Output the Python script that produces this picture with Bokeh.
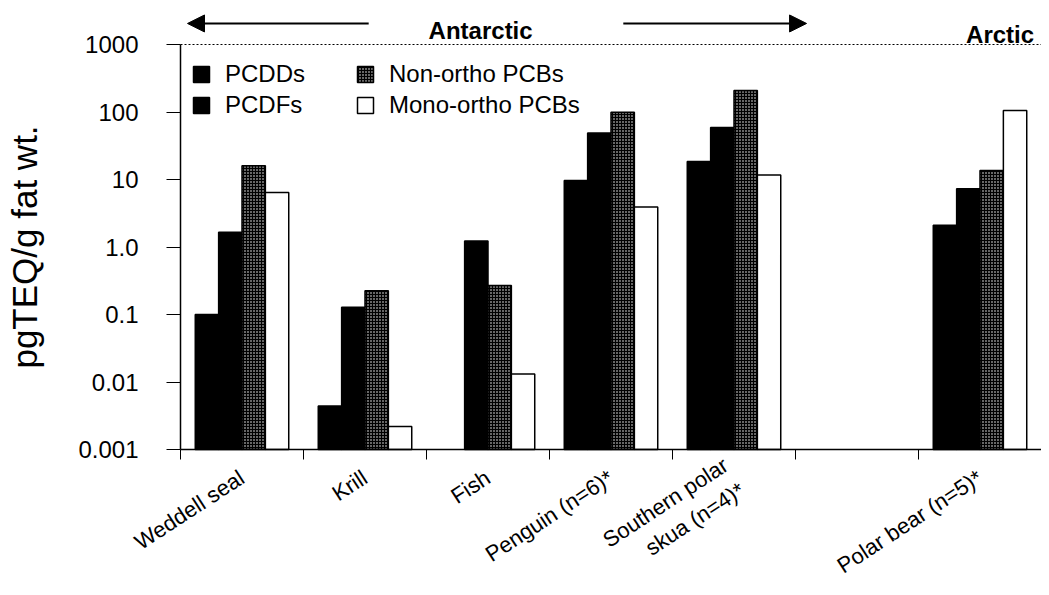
import math
from bokeh.plotting import figure
from bokeh.models import (FixedTicker, Legend, LegendItem, Arrow, NormalHead, Label)
from bokeh.embed import file_html
from bokeh.resources import INLINE

# ---- data ----
categories = ["Weddell seal", "Krill", "Fish", "Penguin (n=6)*",
              "Southern polar\nskua (n=4)*", "", "Polar bear (n=5)*"]
series_names = ["PCDDs", "PCDFs", "Non-ortho PCBs", "Mono-ortho PCBs"]
nan = float("nan")
pcdds = [0.1, 0.0044, nan, 9.7, 18.5, nan, 2.1]
pcdfs = [1.65, 0.128, 1.23, 49, 59, nan, 7.3]
non_ortho = [16, 0.224, 0.27, 99, 208, nan, 13.6]
mono_ortho = [6.4, 0.0022, 0.0131, 3.9, 11.7, nan, 105]
y_ticks = [0.001, 0.01, 0.1, 1, 10, 100, 1000]
y_tick_labels = ["0.001", "0.01", "0.1", "1.0", "10", "100", "1000"]

FONT = "Liberation Sans"
n = len(categories)
bar_w = 0.19
base = y_ticks[0]

# ---- layout: the frame fills the whole canvas, axes are pinned inside it ----
W, H = 1041, 579
left_px = 180.0          # room left of the y axis
axis_px = 405.0          # pixel height of the 0.001..1000 axis
above_px = 44.0          # room above 1000 (region annotations)
below_px = H - above_px - axis_px   # room below 0.001 (category labels)
decades = math.log10(y_ticks[-1] / y_ticks[0])
y_top = y_ticks[-1] * 10 ** (decades * above_px / axis_px)
y_bot = y_ticks[0] / 10 ** (decades * below_px / axis_px)
slot_px = (W - left_px) / n
x_start = -left_px / slot_px

p = figure(width=W, height=H, output_backend="svg", toolbar_location=None,
           y_axis_type="log", x_range=(x_start, n), y_range=(y_bot, y_top),
           min_border_left=0, min_border_right=0, min_border_top=0,
           min_border_bottom=0)
p.outline_line_color = None
p.grid.grid_line_color = None
p.background_fill_color = "white"

styles = [
    dict(fill_color="black"),
    dict(fill_color="black"),
    dict(fill_color="black", hatch_pattern="dot", hatch_color="white",
         hatch_scale=3, hatch_weight=1.5),
    dict(fill_color="white"),
]
renderers = []
for k, vals in enumerate([pcdds, pcdfs, non_ortho, mono_ortho]):
    xs = [i + 0.5 + (k - 1.5) * bar_w for i in range(n)]
    xs2 = [x for x, v in zip(xs, vals) if not math.isnan(v)]
    vs2 = [v for v in vals if not math.isnan(v)]
    r = p.vbar(x=xs2, top=vs2, bottom=base, width=bar_w, line_color="black",
               line_width=1.5, **styles[k])
    renderers.append(r)

# dotted top line at 1000
p.segment(x0=[0], x1=[n], y0=[y_ticks[-1]], y1=[y_ticks[-1]],
          line_color="black", line_dash="2 2", line_width=1)

# x axis pinned at the 0.001 baseline
xa = p.xaxis[0]
xa.fixed_location = y_ticks[0]
xa.bounds = (0, n)
xa.ticker = FixedTicker(ticks=[i + 0.5 for i in range(n)],
                        minor_ticks=[float(i) for i in range(n + 1)])
xa.major_label_overrides = {i + 0.5: c for i, c in enumerate(categories)}
xa.major_tick_out = 0
xa.major_tick_in = 0
xa.minor_tick_out = 10
xa.minor_tick_in = 0
xa.minor_tick_line_color = "black"
xa.major_label_orientation = 0.58
xa.major_label_standoff = 16
xa.major_label_text_font = FONT
xa.major_label_text_font_size = "22px"
xa.major_label_text_color = "black"
xa.axis_line_color = "black"
xa.axis_line_width = 1.5

# y axis pinned at x = 0
ya = p.yaxis[0]
ya.fixed_location = 0
ya.bounds = (y_ticks[0], y_ticks[-1])
ya.ticker = FixedTicker(ticks=y_ticks, minor_ticks=[])
ya.major_label_overrides = {t: l for t, l in zip(y_ticks, y_tick_labels)}
ya.major_tick_out = 14
ya.major_tick_in = 0
ya.minor_tick_out = 0
ya.minor_tick_in = 0
ya.major_label_standoff = 28
ya.major_label_text_font = FONT
ya.major_label_text_font_size = "24px"
ya.major_label_text_color = "black"
ya.axis_line_color = "black"
ya.axis_line_width = 1.5
ya.axis_label = "pgTEQ/g fat wt."
ya.axis_label_text_font = FONT
ya.axis_label_text_font_style = "normal"
ya.axis_label_text_font_size = "35px"
ya.axis_label_text_color = "black"
ya.axis_label_standoff = 31

# legends (two columns)
leg_y = int(H - 119)
leg1 = Legend(items=[LegendItem(label=series_names[0], renderers=[renderers[0]]),
                     LegendItem(label=series_names[1], renderers=[renderers[1]])],
              location=(int(left_px) + 11, leg_y))
leg2 = Legend(items=[LegendItem(label=series_names[2], renderers=[renderers[2]]),
                     LegendItem(label=series_names[3], renderers=[renderers[3]])],
              location=(int(left_px) + 175, leg_y))
for lg in (leg1, leg2):
    lg.border_line_color = None
    lg.background_fill_alpha = 0
    lg.padding = 0
    lg.margin = 0
    lg.spacing = 3
    lg.glyph_width = 20
    lg.glyph_height = 20
    lg.label_standoff = 14
    lg.label_text_font = FONT
    lg.label_text_font_size = "24px"
    lg.label_text_color = "black"
    p.add_layout(lg)

# region annotations above the 1000 line
yarrow = 2050
p.add_layout(Arrow(end=NormalHead(size=17, fill_color="black", line_color="black"),
                   x_start=1.53, y_start=yarrow, x_end=0.057, y_end=yarrow,
                   line_width=2))
p.add_layout(Arrow(end=NormalHead(size=17, fill_color="black", line_color="black"),
                   x_start=3.60, y_start=yarrow, x_end=5.09, y_end=yarrow,
                   line_width=2))
p.add_layout(Label(x=2.44, y=1611, text="Antarctic", text_font=FONT,
                   text_font_size="24px", text_font_style="bold",
                   text_color="black", text_baseline="middle", text_align="center"))
p.add_layout(Label(x=6.94, y=1407, text="Arctic", text_font=FONT,
                   text_font_size="24px", text_font_style="bold",
                   text_color="black", text_baseline="middle", text_align="right"))

open("out.html", "w").write(file_html(p, INLINE))
